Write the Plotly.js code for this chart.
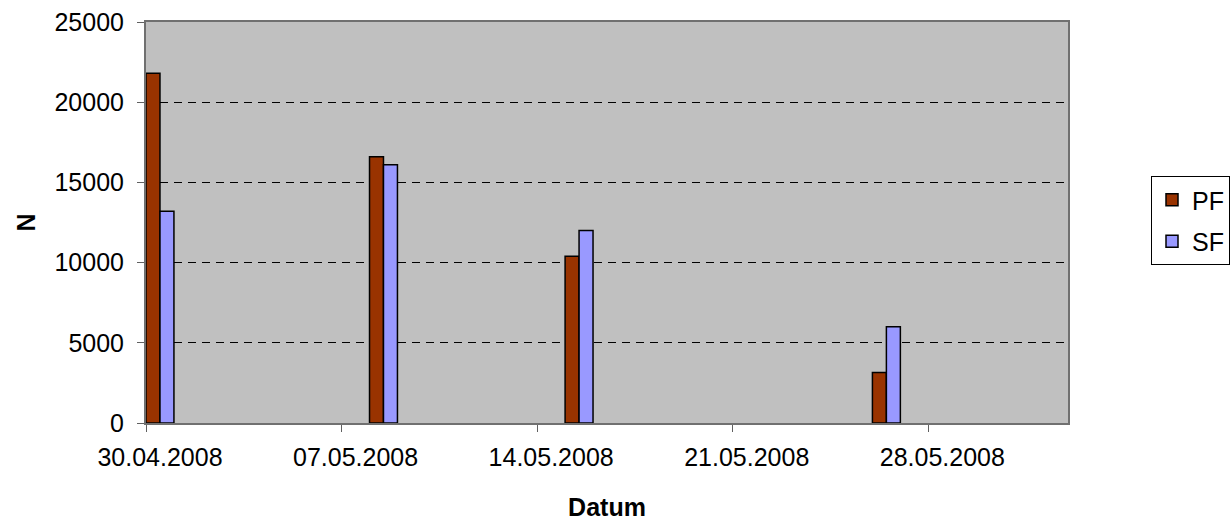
<!DOCTYPE html>
<html>
<head>
<meta charset="utf-8">
<script src="https://cdn.plot.ly/plotly-3.0.1.min.js"></script>
<style>html,body{margin:0;padding:0;background:#fff;}#chart{width:1230px;height:522px;}</style>
</head>
<body>
<div id="chart"></div>
<script>
const dates = ['2008-04-30', '2008-05-08', '2008-05-15', '2008-05-26'];
const pfValues = [21800, 16600, 10400, 3150];
const sfValues = [13200, 16100, 12000, 6000];
const seriesNames = ['PF', 'SF'];
const xRange = ['2008-04-30', '2008-06-02'];
const yTickVals = [0, 5000, 10000, 15000, 20000, 25000];
const yTickText = ['0', '5000', '10000', '15000', '20000', '25000'];

const DAY = 86400000;
const font = 'Liberation Sans, Arial, sans-serif';

const traces = [
  {
    type: 'bar', name: seriesNames[0], x: dates, y: pfValues, legendgroup: 'a',
    xperiod: DAY, xperiodalignment: 'middle',
    width: DAY / 2, offset: -DAY / 2,
    marker: {color: '#993300', line: {color: '#000000', width: 1.5}}
  },
  {
    type: 'bar', name: seriesNames[1], x: dates, y: sfValues, legendgroup: 'b',
    xperiod: DAY, xperiodalignment: 'middle',
    width: DAY / 2, offset: 0,
    marker: {color: '#9999FF', line: {color: '#000000', width: 1.5}}
  }
];

const layout = {
  width: 1230, height: 522,
  margin: {l: 146, r: 162, t: 22, b: 99, pad: 0},
  paper_bgcolor: '#ffffff',
  plot_bgcolor: '#C0C0C0',
  barmode: 'overlay',
  showlegend: true,
  font: {family: font, size: 25, color: '#000000'},
  xaxis: {
    type: 'date',
    range: xRange,
    tick0: '2008-04-30', dtick: 7 * DAY,
    tickformat: '%d.%m.%Y',
    ticks: 'outside', ticklen: 7, tickwidth: 1, tickcolor: '#606060',
    ticklabelshift: 14, ticklabelstandoff: 4,
    showgrid: false, zeroline: false,
    showline: true, linecolor: '#707070', linewidth: 2, mirror: true,
    tickfont: {family: font, size: 25, color: '#000000'},
    title: {text: '<b>Datum</b>', font: {family: font, size: 25, color: '#000000'}, standoff: 28}
  },
  yaxis: {
    range: [0, 25000],
    tickvals: yTickVals, ticktext: yTickText,
    ticks: 'outside', ticklen: 7, tickwidth: 1, tickcolor: '#606060',
    ticklabelstandoff: 8,
    showgrid: true, gridcolor: '#000000', gridwidth: 1, griddash: '8px,6px',
    zeroline: false,
    showline: true, linecolor: '#707070', linewidth: 2, mirror: true,
    tickfont: {family: font, size: 25, color: '#000000'},
    title: {text: '<b>N</b>', font: {family: font, size: 25, color: '#000000'}, standoff: 12}
  },
  legend: {
    xref: 'container', yref: 'container',
    x: 1151 / 1230, xanchor: 'left', y: 1 - 176 / 522, yanchor: 'top',
    bgcolor: '#ffffff', bordercolor: '#000000', borderwidth: 1,
    font: {family: font, size: 25, color: '#000000'},
    traceorder: 'grouped', tracegroupgap: 6
  }
};

Plotly.newPlot('chart', traces, layout, {staticPlot: true, displayModeBar: false});
</script>
</body>
</html>
